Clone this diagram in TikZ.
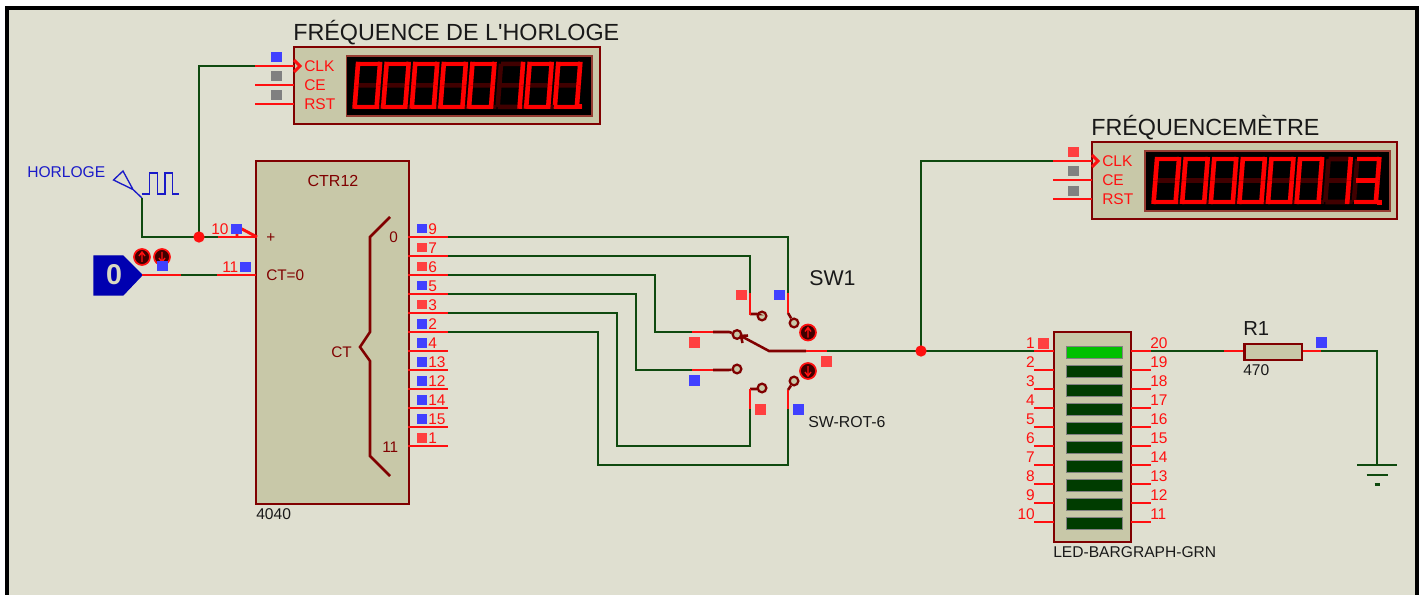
\documentclass[tikz,border=0pt]{standalone}
\usepackage{fontspec}
\setmainfont{Liberation Sans}
\definecolor{bgc}{HTML}{DFDFD0}
\definecolor{boxc}{HTML}{C8C8A8}
\definecolor{wirec}{HTML}{0F4A0F}
\definecolor{pinc}{HTML}{FF1010}
\definecolor{bordc}{HTML}{800000}
\definecolor{mblue}{HTML}{4040FF}
\definecolor{mred}{HTML}{FF4040}
\definecolor{mgrey}{HTML}{808080}
\definecolor{dimc}{HTML}{400000}
\definecolor{ledon}{HTML}{00C000}
\definecolor{ledoff}{HTML}{003C00}
\definecolor{genc}{HTML}{1A1AC8}
\definecolor{lsc}{HTML}{0000B0}
\newcommand{\fsz}[1]{\fontsize{#1}{#1}\selectfont}
\tikzset{
  wire/.style={draw=wirec,line width=2pt,line join=miter},
  pinl/.style={draw=pinc,line width=2.2pt},
  bordl/.style={draw=bordc,line width=1.9pt},
  compbox/.style={draw=bordc,fill=boxc,line width=2.2pt},
  lbl/.style={inner sep=0pt,anchor=base west,text=pinc,font=\fsz{11.6}},
  lblr/.style={inner sep=0pt,anchor=base east,text=pinc,font=\fsz{11.6}},
  dlbl/.style={inner sep=0pt,anchor=base west,text=bordc,font=\fsz{11.5}},
  tlbl/.style={inner sep=0pt,anchor=base west,text=black!90,font=\fsz{11.7}},
  title/.style={inner sep=0pt,anchor=base west,text=black!90,font=\fsz{17.5}},
  contact/.style={circle,draw=bordc,fill=boxc,line width=1.7pt,minimum size=6.5pt,inner sep=0pt},
  btn/.style={circle,draw=pinc,fill=dimc,line width=1.3pt,minimum size=12pt,inner sep=0pt},
  junct/.style={circle,fill=pinc,minimum size=8.5pt,inner sep=0pt},
  seg/.style={line width=3.4pt,line cap=butt},
  btnarrow/.style={draw=pinc,line width=1pt},
}
\newcommand{\mk}[3]{\fill[#1] (#2,#3) rectangle ++(10.5,10.5);}
\newcommand{\uparr}[2]{\draw[btnarrow] (#1,#2+5)--(#1,#2-4) (#1-3,#2-1)--(#1,#2-5)--(#1+3,#2-1);}
\newcommand{\dnarr}[2]{\draw[btnarrow] (#1,#2-5)--(#1,#2+4) (#1-3,#2+1)--(#1,#2+5)--(#1+3,#2+1);}
\newcommand{\digseg}[1]{%
  \ifcase#1\relax
    (0,0)--(22,0)\or (22,-2)--(22,21.5)\or (22,21.5)--(22,45)\or (0,43)--(22,43)\or
    (0,21.5)--(0,45)\or (0,-2)--(0,21.5)\or (0,21.5)--(22,21.5)\fi}
\newcommand{\sevenseg}[3]{%
  \begin{scope}[shift={(#1+3.5,#2)},xslant=0.078]
    \draw[seg,dimc] (0,0)--(22,0) (22,0)--(22,43) (0,43)--(22,43) (0,0)--(0,43) (0,21.5)--(22,21.5);
    \fill[dimc] (23.5,41) rectangle ++(4,4);
    \foreach \s in {#3}{\draw[seg,red] \digseg{\s};}
  \end{scope}}
\begin{document}
\begin{tikzpicture}[x=0.75pt,y=-0.75pt]
\useasboundingbox (0,0) rectangle (1424,595);
\fill[white] (0,0) rectangle (1424,595);
\fill[black] (5,6) rectangle (1419,595);
\fill[bgc] (9,10) rectangle (1415,595);

% ---- coordinates
\coordinate (clkjun) at (199,237);
\coordinate (genout) at (142,198);
\coordinate (d1clk) at (255,66);
\coordinate (d2clk) at (1053,161);
\foreach \i [count=\k from 0] in {9,7,6,5,3,2,4,13,12,14,15,1}{
  \coordinate (p\i) at (408,237+19*\k);
  \coordinate (q\i) at (448,237+19*\k);
}
\coordinate (sw9) at (788,293);
\coordinate (sw7) at (750,293);
\coordinate (sw6) at (692,332);
\coordinate (sw5) at (692,370);
\coordinate (sw3) at (750,409);
\coordinate (sw2) at (788,409);
\coordinate (swc) at (827,351);
\coordinate (led1) at (1034,351);
\coordinate (led20) at (1151,351);
\coordinate (r1a) at (1224,351);
\coordinate (r1b) at (1321,351);
\coordinate (gnd) at (1377,465);

% ---- display 1
\node[title] (t1) at (293,41) {FRÉQUENCE DE L\textquotesingle HORLOGE};
\draw[compbox] (294,47) rectangle (600,124);
\draw[draw=bordc!70!boxc,fill=black,line width=1pt] (346.5,56) rectangle (592,116);
\foreach \d in {0,1,2,3,4,7}{\sevenseg{354.5+28.6*\d}{63.8}{0,1,2,3,4,5}}
\sevenseg{354.5+28.6*5}{63.8}{1,2}
\sevenseg{354.5+28.6*6}{63.8}{0,1,2,3,4,5}
\fill[red] (577,104) rectangle ++(5,5);
\draw[pinl] (d1clk)--(294,66) (255,85)--(294,85) (255,104)--(294,104);
\draw[pinl] (294,60)--(300,66)--(294,72);
\node[lbl] (d1a) at (304,72) {CLK};
\node[lbl] (d1b) at (304,91) {CE};
\node[lbl] (d1c) at (304,110) {RST};
\mk{mblue}{271}{52}\mk{mgrey}{271}{71}\mk{mgrey}{271}{90}

% ---- display 2
\node[title] (t2) at (1091,136) {FRÉQUENCEMÈTRE};
\draw[compbox] (1092,142) rectangle (1397,219);
\draw[draw=bordc!70!boxc,fill=black,line width=1pt] (1145,151) rectangle (1390,211);
\foreach \d in {0,1,2,3,4,5}{\sevenseg{1153.5+28.6*\d}{159}{0,1,2,3,4,5}}
\sevenseg{1153.5+28.6*6}{159}{1,2}
\sevenseg{1153.5+28.6*7}{159}{0,1,2,3,6}
\fill[red] (1377,200) rectangle ++(5,5);
\draw[pinl] (d2clk)--(1092,161) (1053,180)--(1092,180) (1053,199)--(1092,199);
\draw[pinl] (1092,155)--(1098,161)--(1092,167);
\node[lbl] (d2a) at (1102,167) {CLK};
\node[lbl] (d2b) at (1102,186) {CE};
\node[lbl] (d2c) at (1102,205) {RST};
\mk{mred}{1068}{147}\mk{mgrey}{1068}{166}\mk{mgrey}{1068}{186}

% ---- generator
\node[inner sep=0pt,anchor=base west,text=genc,font=\fsz{11.7}] (gen) at (27,177.5) {HORLOGE};
\draw[genc,line width=1pt] (123,171)--(113.5,180)--(133,189.5)--cycle (133,189.5)--(genout);
\draw[genc,line width=1pt] (141.7,194)--(149.3,194)--(149.3,173)--(157.3,173)--(157.3,194)--(165,194)--(165,173)--(172.7,173)--(172.7,194)--(179,194);

% ---- logic state
\draw[draw=lsc,fill=lsc,line width=1pt] (94,256)--(123,256)--(142,275)--(123,295)--(94,295)--cycle;
\node[inner sep=0pt,text=boxc!70!white,font=\fsz{21.5}\bfseries] (ls) at (114,275) {0};
\node[btn] (lsup) at (142,257) {};
\node[btn] (lsdn) at (162,257) {};
\uparr{142}{257}\dnarr{162}{257}
\mk{mblue}{157}{261}

% ---- wires
\draw[wire] (genout)|-(clkjun)--(218,237);
\draw[wire] (clkjun)|-(d1clk);
\draw[wire] (181,275)--(217,275);
\draw[wire] (q9)-|(sw9);
\draw[wire] (q7)-|(sw7);
\draw[wire] (q6)-|(655,332)--(sw6);
\draw[wire] (q5)-|(636,370)--(sw5);
\draw[wire] (q3)-|(617,446)-|(sw3);
\draw[wire] (q2)-|(598,465)-|(sw2);
\draw[wire] (swc)--(led1);
\draw[wire] (921,351)|-(d2clk);
\draw[wire] (led20)--(r1a);
\draw[wire] (r1b)-|(gnd);
\draw[wire] (1357,465)--(1397,465) (1366.5,475)--(1388,475) (1374.5,484.5)--(1380,484.5);
\node[junct] (j1) at (clkjun) {};
\node[junct] (j2) at (921,351) {};

% ---- counter
\draw[compbox] (256,161) rectangle (409,504);
\node[dlbl,anchor=base,font=\fsz{12}] (ctr) at (333,186.5) {CTR12};
\node[dlbl] (plus) at (266,243) {+};
\node[dlbl] (ct0) at (266,281) {CT=0};
\node[dlbl] (b0) at (389,243) {0};
\node[dlbl] (ct) at (331,357) {CT};
\node[dlbl] (b11) at (382,452) {11};
\node[tlbl] (ic) at (256,519) {4040};
\draw[bordc,line width=1.9pt] (390,217)--(370,237)--(370,332)--(360,347)--(370,361)--(370,456)--(390,476);
\draw[pinl] (218,237)--(257,237) (142,275)--(181,275) (217,275)--(256,275);
\draw[pinl] (240,228)--(257,237) (237,233)--(237,237);
\node[lbl] (n10) at (211,235) {10};
\node[lbl] (n11) at (222,273) {11};
\mk{mblue}{231}{224}\mk{mblue}{240}{262}
\foreach \i/\c [count=\k from 0] in {9/mblue,7/mred,6/mred,5/mblue,3/mred,2/mblue,4/mblue,13/mblue,12/mblue,14/mblue,15/mblue,1/mred}{
  \draw[pinl] (p\i)--(q\i);
  \node[lbl] (l\i) at (428,234.5+19*\k) {\i};
  \fill[\c] (417,224+19*\k) rectangle ++(9.5,9.5);
}

% ---- switch
\node[contact] (c1) at (762,316) {};
\node[contact] (c2) at (794,323) {};
\node[contact] (c3) at (737,334.5) {};
\node[contact] (c4) at (737,369) {};
\node[contact] (c5) at (762,388) {};
\node[contact] (c6) at (794,381) {};
\node[btn] (swup) at (808,332.5) {};
\node[btn] (swdn) at (808,371) {};
\uparr{808}{332.5}\dnarr{808}{371}
\draw[bordl] (750,314)--(757,314)--(c1) (788,313)--(c2) (713,332)--(729,332)--(c3) (713,370)--(729,370)--(c4) (750,389)--(757,389)--(c5) (788,390)--(c6);
\draw[bordl] (806,351)--(769,351)--(741,336) (740,336)--(748,335.5) (741,336)--(742.5,343);
\draw[pinl] (sw9)--(788,313) (sw7)--(750,314.5) (sw6)--(713,332) (sw5)--(713,370)
  (sw3)--(750,389) (sw2)--(788,390) (806,351)--(swc);
\mk{mred}{736}{290}\mk{mblue}{774}{290}\mk{mred}{689}{337}\mk{mblue}{689}{375}
\mk{mred}{821}{356}\mk{mred}{755}{404}\mk{mblue}{793}{404}
\node[title,font=\fsz{16}] (sw1) at (809,286) {SW1};
\node[tlbl,font=\fsz{11.9}] (swr) at (808,427) {SW-ROT-6};

% ---- bargraph
\draw[compbox] (1054,332) rectangle (1131,542);
\foreach \k [count=\n from 1, evaluate=\k as \m using int(20-\k)] in {0,...,9}{
  \draw[pinl] (1034,351+19*\k)--(1054,351+19*\k) (1131,351+19*\k)--(1151,351+19*\k);
  \node[lblr] (la\n) at (1035,348+19*\k) {\n};
  \node[lbl] (lb\n) at (1150,348+19*\k) {\m};
  \ifnum\k=0
    \draw[draw=mgrey,fill=ledon,line width=.6pt] (1066,346+19*\k) rectangle (1122,358+19*\k);
  \else
    \draw[draw=mgrey,fill=ledoff,line width=.6pt] (1066,346+19*\k) rectangle (1122,358+19*\k);
  \fi
}
\mk{mred}{1038}{338}
\node[tlbl] (ledn) at (1053,557) {LED-BARGRAPH-GRN};

% ---- resistor
\draw[pinl] (r1a)--(1244,351) (1302,351)--(r1b);
\draw[compbox] (1244.5,344) rectangle (1302,360);
\node[title,font=\fsz{15.2}] (r1) at (1243,335) {R1};
\node[tlbl] (r1v) at (1243,375) {470};
\mk{mblue}{1316}{337}
\end{tikzpicture}
\end{document}
